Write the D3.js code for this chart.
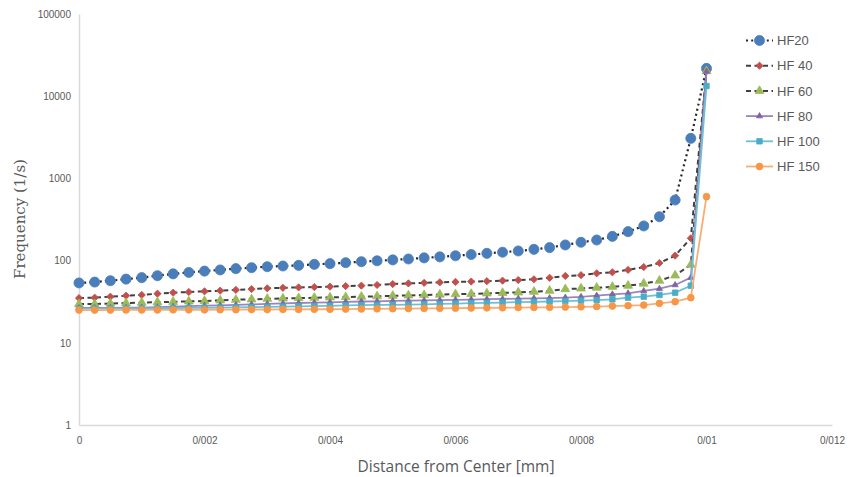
<!DOCTYPE html>
<html>
<head>
<meta charset="utf-8">
<script src="https://cdn.jsdelivr.net/npm/d3@7"></script>
<style>
  html, body { margin: 0; padding: 0; background: #fff; }
  svg { display: block; }
</style>
</head>
<body>
<svg id="chart" width="858" height="477"></svg>
<script>
// Distance from center (mm), one sample every 0.00025 mm
const distance = [
  0, 0.00025, 0.0005, 0.00075, 0.001, 0.00125, 0.0015, 0.00175, 0.002, 0.00225,
  0.0025, 0.00275, 0.003, 0.00325, 0.0035, 0.00375, 0.004, 0.00425, 0.0045, 0.00475,
  0.005, 0.00525, 0.0055, 0.00575, 0.006, 0.00625, 0.0065, 0.00675, 0.007, 0.00725,
  0.0075, 0.00775, 0.008, 0.00825, 0.0085, 0.00875, 0.009, 0.00925, 0.0095, 0.00975,
  0.01
];

// Frequency (1/s) for each HF case
const hf20 = [
  53.5, 54.8, 56.9, 59.5, 62.0, 65.5, 69.0, 71.8, 74.5, 77.0,
  79.8, 82.0, 84.3, 86.0, 87.5, 90.0, 91.8, 94.3, 97.0, 99.5,
  102.0, 104.6, 108.0, 111.0, 114.5, 118.5, 122.5, 126.5, 131.0, 137.0,
  144.0, 155.0, 167.0, 178.0, 197.0, 225.0, 264.0, 342.0, 546.0, 3070,
  21800
];
const hf40 = [
  35.0, 35.4, 36.4, 37.4, 38.2, 39.6, 40.7, 41.5, 42.3, 43.1,
  44.0, 45.0, 46.0, 46.6, 47.2, 47.6, 48.2, 49.0, 49.6, 50.5,
  51.8, 52.8, 53.6, 54.4, 55.0, 55.6, 56.2, 57.0, 58.0, 59.3,
  61.8, 65.0, 66.5, 70.0, 72.0, 77.0, 83.5, 93.5, 115.0, 187.0,
  20500
];
const hf60 = [
  29.6, 29.6, 30.1, 30.4, 30.8, 31.2, 31.5, 31.9, 32.3, 32.8,
  33.4, 33.8, 34.3, 34.6, 35.0, 35.3, 35.7, 36.0, 36.4, 36.8,
  37.3, 37.7, 38.1, 38.6, 39.0, 39.4, 39.9, 40.5, 41.0, 41.8,
  43.0, 45.0, 45.8, 46.8, 48.0, 49.5, 52.5, 57.0, 66.0, 89.0,
  20200
];
const hf80 = [
  26.5, 26.5, 26.6, 26.7, 26.8, 27.1, 27.5, 27.9, 28.3, 28.6,
  28.9, 29.3, 29.7, 30.1, 30.5, 30.8, 31.1, 31.5, 31.8, 32.0,
  32.3, 32.5, 32.8, 33.0, 33.3, 33.6, 33.9, 34.2, 34.5, 34.8,
  35.0, 35.5, 36.3, 37.5, 38.9, 40.0, 42.7, 45.5, 50.5, 62.0,
  20000
];
const hf100 = [
  26.0, 26.0, 26.1, 26.2, 26.3, 26.4, 26.5, 26.6, 26.7, 26.8,
  27.0, 27.2, 27.4, 27.6, 27.8, 28.0, 28.2, 28.5, 28.7, 28.9,
  29.0, 29.2, 29.4, 29.7, 30.0, 30.3, 30.6, 30.9, 31.2, 31.5,
  31.8, 32.2, 32.6, 33.0, 33.8, 35.4, 36.4, 38.2, 40.7, 49.5,
  13300
];
const hf150 = [
  25.0, 25.0, 25.0, 25.1, 25.1, 25.1, 25.2, 25.2, 25.2, 25.3,
  25.3, 25.4, 25.4, 25.5, 25.5, 25.6, 25.6, 25.7, 25.8, 25.9,
  26.0, 26.1, 26.2, 26.3, 26.4, 26.5, 26.6, 26.7, 26.8, 26.9,
  27.0, 27.2, 27.4, 27.6, 28.0, 28.3, 28.8, 30.2, 31.6, 35.4,
  600
];

const seriesNames = ["HF20", "HF 40", "HF 60", "HF 80", "HF 100", "HF 150"];
const seriesValues = [hf20, hf40, hf60, hf80, hf100, hf150];

// Axis ticks and their printed labels
const xTicks = [0, 0.002, 0.004, 0.006, 0.008, 0.01, 0.012];
const xTickLabels = ["0", "0/002", "0/004", "0/006", "0/008", "0/01", "0/012"];
const yTicks = [1, 10, 100, 1000, 10000, 100000];
const yTickLabels = ["1", "10", "100", "1000", "10000", "100000"];

const xTitle = "Distance from Center [mm]";
const yTitle = "Frequency (1/s)";

// Styling per series: marker shape, marker size, colours and dash pattern
const styles = [
  { symbol: d3.symbolCircle,   size: 80, rotate: 0,  fill: "#4A7EBB", line: "#262626", width: 2.2, dash: "2,3.2" },
  { symbol: d3.symbolSquare,   size: 26, rotate: 45, fill: "#C0504D", line: "#404040", width: 2.0, dash: "5,3.5" },
  { symbol: d3.symbolTriangle, size: 34, rotate: 0,  fill: "#9BBB59", line: "#404040", width: 2.0, dash: "5,3.5" },
  { symbol: d3.symbolTriangle, size: 16, rotate: 0,  fill: "#8064A2", line: "#9A85C0", width: 1.8, dash: null },
  { symbol: d3.symbolSquare,   size: 30, rotate: 0,  fill: "#4BACC6", line: "#6DC0D6", width: 1.8, dash: null },
  { symbol: d3.symbolCircle,   size: 36, rotate: 0,  fill: "#F79646", line: "#F9AD72", width: 1.8, dash: null }
];

const svg = d3.select("#chart");
const textColor = "#595959";

const x = d3.scaleLinear().domain([0, 0.012]).range([79, 832]);
const y = d3.scaleLog().domain([1, 100000]).range([425, 14]);

// Axes (no tick marks, light grey domain lines)
const xAxis = d3.axisBottom(x)
  .tickValues(xTicks)
  .tickFormat((d, i) => xTickLabels[i])
  .tickSize(0)
  .tickPadding(12);
const yAxis = d3.axisLeft(y)
  .tickValues(yTicks)
  .tickFormat((d, i) => yTickLabels[i])
  .tickSize(0)
  .tickPadding(8);

const gx = svg.append("g").attr("transform", `translate(0,${y(1)})`).call(xAxis);
const gy = svg.append("g").attr("transform", `translate(${x(0)},0)`).call(yAxis);
[gx, gy].forEach(g => {
  g.select(".domain").attr("stroke", "#D9D9D9").attr("stroke-width", 1.5);
  g.selectAll("text")
    .attr("fill", textColor)
    .style("font-family", "'Liberation Sans', Arial, sans-serif")
    .style("font-size", "10px");
});

// Axis titles
svg.append("text")
  .attr("x", 456).attr("y", 472)
  .attr("text-anchor", "middle")
  .attr("fill", textColor)
  .style("font-family", "'Open Sans', 'Liberation Sans', sans-serif")
  .style("font-size", "15.5px")
  .text(xTitle);

svg.append("text")
  .attr("transform", "translate(25,219) rotate(-90)")
  .attr("text-anchor", "middle")
  .attr("fill", textColor)
  .style("font-family", "'DejaVu Serif', 'Liberation Serif', serif")
  .style("font-size", "15px")
  .text(yTitle);

// Series lines and markers
const line = d3.line()
  .x((d, i) => x(distance[i]))
  .y(d => y(d));

seriesValues.forEach((vals, s) => {
  const st = styles[s];
  const g = svg.append("g");
  g.append("path")
    .datum(vals)
    .attr("d", line)
    .attr("fill", "none")
    .attr("stroke", st.line)
    .attr("stroke-width", st.width)
    .attr("stroke-dasharray", st.dash)
    .attr("stroke-linecap", "butt");
  const sym = d3.symbol().type(st.symbol).size(st.size);
  g.selectAll("path.m")
    .data(vals)
    .join("path")
    .attr("class", "m")
    .attr("d", sym)
    .attr("transform", (d, i) => `translate(${x(distance[i])},${y(d)}) rotate(${st.rotate})`)
    .attr("fill", st.fill)
    .attr("stroke", st.fill)
    .attr("stroke-width", 0.8);
});

// Legend
const legend = svg.append("g");
seriesNames.forEach((name, s) => {
  const st = styles[s];
  const ly = 40.5 + s * 25.2;
  legend.append("line")
    .attr("x1", 746).attr("x2", 773)
    .attr("y1", ly).attr("y2", ly)
    .attr("stroke", st.line)
    .attr("stroke-width", st.width)
    .attr("stroke-dasharray", st.dash);
  legend.append("path")
    .attr("d", d3.symbol().type(st.symbol).size(st.size)())
    .attr("transform", `translate(759.5,${ly}) rotate(${st.rotate})`)
    .attr("fill", st.fill)
    .attr("stroke", st.fill)
    .attr("stroke-width", 0.8);
  legend.append("text")
    .attr("x", 777).attr("y", ly)
    .attr("dy", "0.36em")
    .attr("fill", textColor)
    .style("font-family", "'Liberation Sans', Arial, sans-serif")
    .style("font-size", "13px")
    .text(name);
});
</script>
</body>
</html>
